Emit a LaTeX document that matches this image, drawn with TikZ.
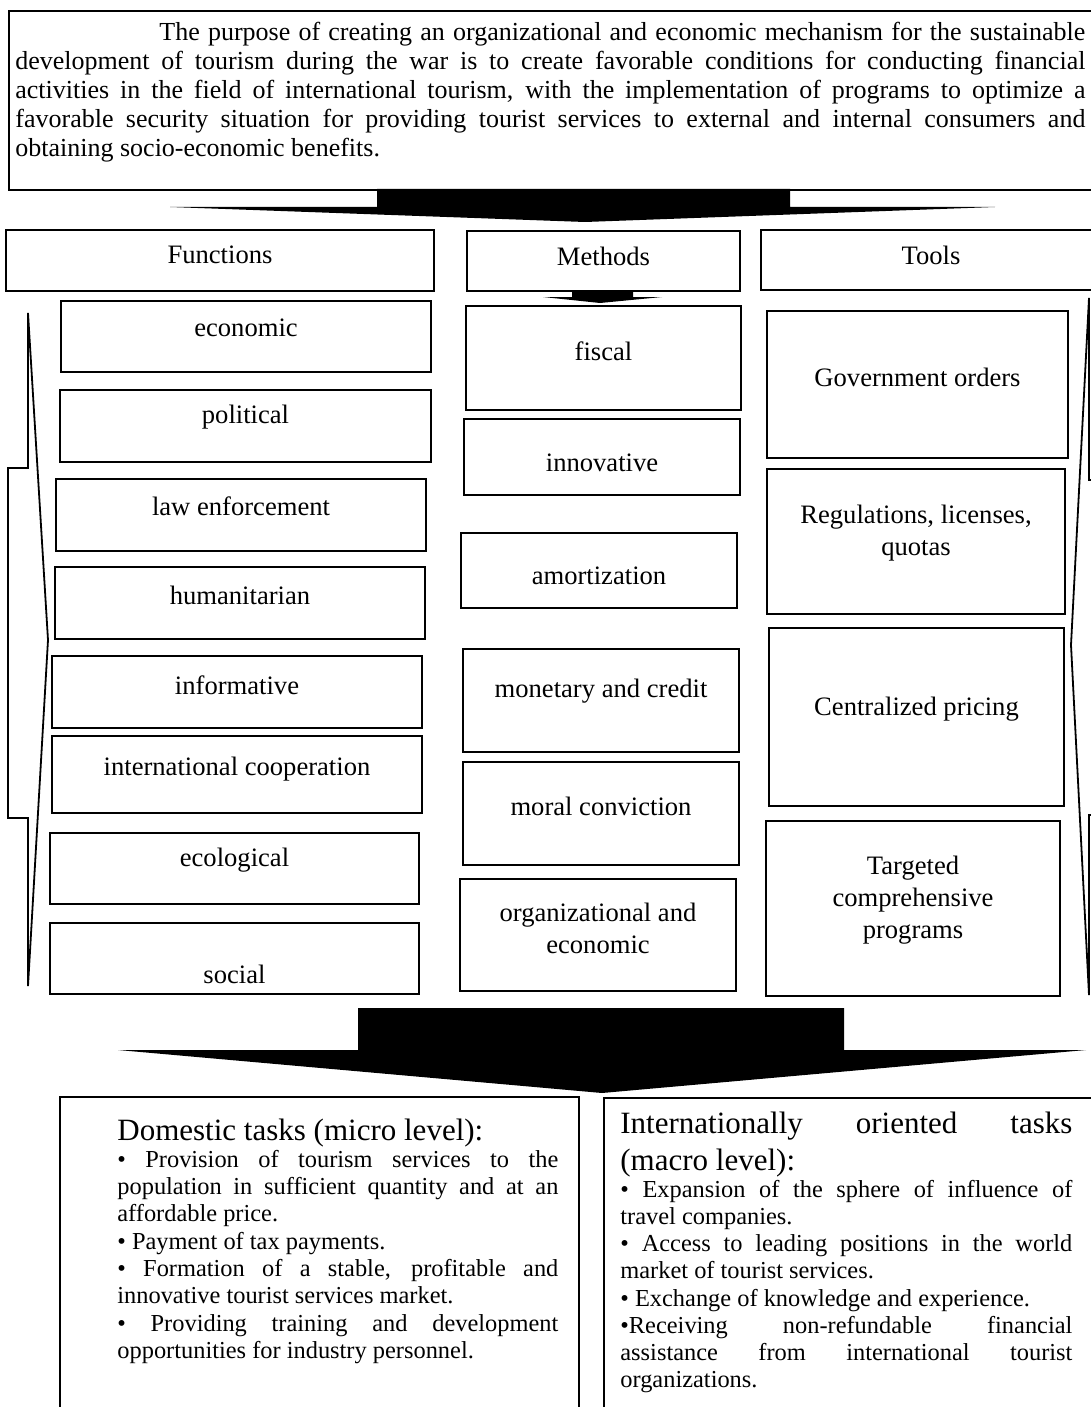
\documentclass[tikz,border=0pt]{standalone}
\usepackage{fontspec}
\setmainfont{Liberation Serif}

\begin{document}
\begin{tikzpicture}[x=0.5pt,y=-0.5pt,
        frame/.style={draw,line width=1pt,rectangle,anchor=north west,inner sep=0pt},
        lbl/.style={font=\fontsize{13.3}{16}\selectfont,align=center},
        txt/.style={anchor=base west,inner sep=0pt}]
        % size of the picture (pixels of the original)
        \useasboundingbox (0,0) rectangle (1091,1407);
        % Purpose of the mechanism
        \node[frame,line width=1.1pt,minimum width=546pt,minimum height=89.5pt] (goal) at (8,10) {};
        \node[txt] (goaltext) at (15,41) {\parbox[t]{535pt}{\fontsize{13}{14.5}\selectfont
            \hspace*{72pt}The purpose of creating an organizational and economic mechanism for the sustainable\linebreak
            development of tourism during the war is to create favorable conditions for conducting financial\linebreak
            activities in the field of international tourism, with the implementation of programs to optimize a\linebreak
            favorable security situation for providing tourist services to external and internal consumers and\linebreak
            obtaining socio-economic benefits.}};
        % Big arrow down to the three groups
        \fill (377,189) -- (790,189) -- (790,207) -- (995,207) -- (585,222) -- (170,207) -- (377,207) -- cycle;
        % Headers, then the boxes of each group
        % name / left / top / right / bottom / height of the label / label
        \foreach \nm/\xa/\ya/\xb/\yb/\ly/\txt in {fun/5/229/433/290/254/Functions,meth/466/230/739/290/255/Methods,
            tool/760/229/1100/289/254/Tools,
            % Functions
            econ/60/300/430/371/327/economic,polit/59/389/430/461/416/political,
            law/55/478/425/550/505/law enforcement,human/54/566/424/638/594/humanitarian,
            inform/51/655/421/727/684/informative,coop/51/735/421/812/768/international cooperation,
            eco/49/832/418/903/859/ecological,social/49/922/418/993/973/social,
            % Methods
            fisc/465/305/740/409/350/fiscal,innov/463/418/739/494/462/innovative,
            amort/460/532/736/607/575/amortization,monet/462/648/738/751/690/monetary and credit,
            moral/462/761/738/864/805/moral conviction,orgec/459/878/735/990/927/{organizational and\\economic},
            % Tools
            gov/766/310/1067/457/376/Government orders,
            regul/766/468/1064/613/532/{Regulations, licenses,\\quotas},
            price/768/627/1063/805/708/Centralized pricing,
            target/765/820/1059/995/899/{Targeted\\comprehensive\\programs}}{
            \pgfmathsetmacro{\w}{(\xb-\xa)/2}
            \pgfmathsetmacro{\h}{(\yb-\ya)/2}
            \pgfmathsetmacro{\dy}{((\ya+\yb)/2-\ly)/2}
            \node[frame,minimum width=\w pt,minimum height=\h pt,label={[lbl,yshift=\dy pt]center:\txt}] (\nm) at (\xa,\ya) {};
        }
        % small arrow under Methods
        \fill (572,290) -- (633,290) -- (633,297) -- (662,297) -- (600,303) -- (543,297) -- (572,297) -- cycle;
        % side arrows (outlined)
        \draw[line width=0.9pt] (28,313) -- (48,640) -- (28,986) -- (28,818) -- (8,818) -- (8,468) -- (28,468) -- cycle;
        \draw[line width=0.9pt] (1089,298) -- (1071,645) -- (1089,995) -- (1089,815) -- (1100,815) -- (1100,480) -- (1089,480) -- cycle;
        % Big arrow down to the tasks
        \fill (358,1008) -- (844,1008) -- (844,1050) -- (1086,1050) -- (602,1093) -- (118,1050) -- (358,1050) -- cycle;
        % Tasks
        \node[frame,minimum width=259.5pt,minimum height=172pt] (dom) at (59,1096) {};
        \node[frame,minimum width=248.5pt,minimum height=172pt] (intl) at (603,1097) {};
        \node[txt] (domtext) at (117,1140) {\parbox[t]{220.5pt}{%
            {\fontsize{15.5}{18.5}\selectfont Domestic tasks (micro level):\par}
            \fontsize{12.2}{13.65}\selectfont
            • Provision of tourism services to the\linebreak
            population in sufficient quantity and at an\linebreak
            affordable price.\par
            • Payment of tax payments.\par
            • Formation of a stable, profitable and\linebreak
            innovative tourist services market.\par
            • Providing training and development\linebreak
            opportunities for industry personnel.}};
        \node[txt] (intltext) at (620,1133) {\parbox[t]{226pt}{%
            {\fontsize{15.5}{18.5}\selectfont Internationally oriented tasks\linebreak
            (macro level):\par}
            \fontsize{12.2}{13.6}\selectfont
            • Expansion of the sphere of influence of\linebreak
            travel companies.\par
            • Access to leading positions in the world\linebreak
            market of tourist services.\par
            • Exchange of knowledge and experience.\par
            •Receiving non-refundable financial\linebreak
            assistance from international tourist\linebreak
            organizations.}};
    \end{tikzpicture}
\end{document}
